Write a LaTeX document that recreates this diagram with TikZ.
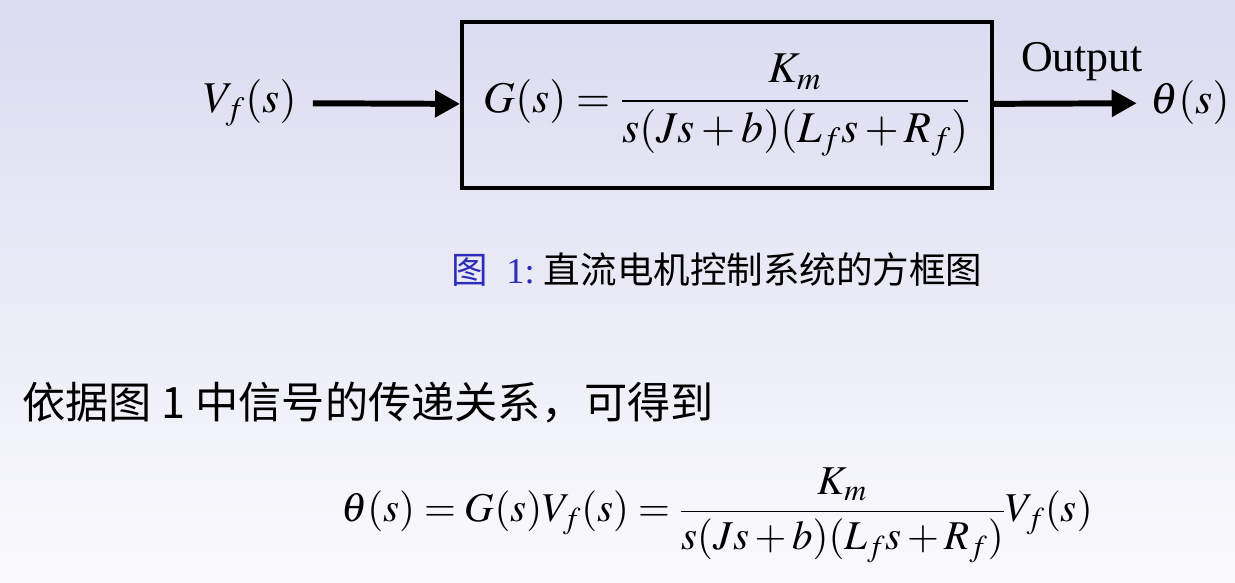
\documentclass[tikz,border=0pt]{standalone}
\usepackage{mathptmx}
\usepackage{fontspec}
\setmainfont{Liberation Serif}
\newfontfamily\cjk{Noto Sans CJK SC}
\usetikzlibrary{arrows.meta}
\definecolor{bgtop}{RGB}{219,219,240}
\definecolor{bgbot}{RGB}{250,250,253}
\definecolor{capblue}{RGB}{45,45,185}

\begin{document}
\begin{tikzpicture}[x=0.02cm,y=-0.02cm,
		blockbox/.style={draw,line width=2.3pt,minimum width=10.6cm,minimum height=3.32cm,inner sep=0pt},
		sigarrow/.style={line width=3.4pt,-{Triangle[length=0.5cm,width=0.52cm]}},
		bigmath/.style={font=\fontsize{25}{29}\selectfont}]
		\shade[top color=bgtop,bottom color=bgbot] (0,0) rectangle (1235,582);
		\useasboundingbox (0,0) rectangle (1235,582);
		
		\node[blockbox,bigmath] (plant) at (727,105) {$\displaystyle G(s) = \frac{K_m}{s(Js + b)(L_f s + R_f)}$};
		\node[bigmath] (vin) at (250,103) {$V_f(s)$};
		\node[bigmath] (theta) at (1190,103) {$\theta(s)$};
		\draw[sigarrow,shorten <=0.2cm] (vin) -- (plant);
		\draw[sigarrow,shorten >=0.15cm] (plant) -- (theta);
		\node[bigmath] (outlbl) at (1082,62) {Output};
		
		% caption
		\node[inner sep=0pt,font=\fontsize{20.8}{24}\selectfont] (cap) at (717,270)
		{{\color{capblue}\cjk 图}\ \ {\color{capblue}1:}\ {\cjk 直流电机控制系统的方框图}};
		
		\node[inner sep=0pt,anchor=west,font=\fontsize{24.6}{28}\cjk] (txt) at (22,403)
		{依据图 1 中信号的传递关系，可得到};
		
		\node[inner sep=0pt,font=\fontsize{23.3}{27}\selectfont] (eqn) at (717,515)
		{$\displaystyle\theta(s) = G(s)V_f(s) = \frac{K_m}{s(Js + b)(L_f s + R_f)}V_f(s)$};
	\end{tikzpicture}
\end{document}
